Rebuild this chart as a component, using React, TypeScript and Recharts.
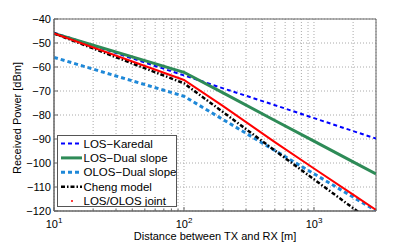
import React from 'react';
import { LineChart, Line, XAxis, YAxis, CartesianGrid, ReferenceArea, Legend, Label } from 'recharts';

// distances [m] and received power [dBm]
const distances = [10, 100, 200, 500, 1000, 2000, 3000];
const losKaredal = [-45.7, -63.5, -68.9, -75.9, -81.3, -86.7, -89.8];
const losDual = [-46.0, -62.2, -70.8, -82.3, -90.9, -99.5, -104.6];
const olosDual = [-56.0, -72.2, -81.9, -94.8, -104.5, -114.2, -119.9];
const cheng = [-46.0, -66.8, -78.8, -94.8, -106.8, -118.8, -125.9];
const joint = [-46.0, -65.4, -76.3, -91.3, -102.3, -113.2, -119.6];

const xTicks = [10, 20, 30, 40, 50, 60, 70, 80, 90, 100, 200, 300, 400, 500, 600, 700, 800, 900, 1000, 2000, 3000];
const yTicks = [-120, -110, -100, -90, -80, -70, -60, -50, -40];

const data = distances.map((d, i) => ({
  d,
  karedal: losKaredal[i],
  losDual: losDual[i],
  olosDual: olosDual[i],
  cheng: cheng[i],
  joint: joint[i],
}));

const FONT = '"Liberation Sans", Arial, sans-serif';
const AXIS = '#666';

const series = [
  { key: 'karedal', name: 'LOS\u2212Karedal', color: '#0000ff', width: 2, dash: '4 3' },
  { key: 'losDual', name: 'LOS\u2212Dual slope', color: '#2e8b57', width: 3, dash: undefined },
  { key: 'olosDual', name: 'OLOS\u2212Dual slope', color: '#1e88d8', width: 3, dash: '4 3' },
  { key: 'cheng', name: 'Cheng model', color: '#000000', width: 2.5, dash: '4 2 1.5 2' },
  { key: 'joint', name: 'LOS/OLOS joint', color: '#ff0000', width: 2, dash: undefined },
];

const isMajor = (v: number) => Math.abs(Math.log10(v) - Math.round(Math.log10(v))) < 1e-9;

const minus = (v: number) => (v < 0 ? '\u2212' + Math.abs(v) : String(v));

const XTick = ({ x, y, payload }: any) => {
  const v = payload.value;
  const major = isMajor(v);
  return (
    <g>
      <line x1={x} x2={x} y1={y} y2={y - (major ? 4 : 2)} stroke={AXIS} />
      {major && (
        <text x={x} y={y + 17} textAnchor="middle" fontSize={11} fontFamily={FONT} fill="#000">
          10<tspan fontSize={8} dy={-5}>{Math.round(Math.log10(v))}</tspan>
        </text>
      )}
    </g>
  );
};

const XTopTick = ({ x, y, payload }: any) => (
  <line x1={x} x2={x} y1={y} y2={y + (isMajor(payload.value) ? 4 : 2)} stroke={AXIS} />
);

const YTick = ({ x, y, payload }: any) => (
  <g>
    <line x1={x} x2={x + 4} y1={y} y2={y} stroke={AXIS} />
    <text x={x - 3} y={y} dy={4} textAnchor="end" fontSize={11} fontFamily={FONT} fill="#000">
      {minus(payload.value)}
    </text>
  </g>
);

const YRightTick = ({ x, y }: any) => <line x1={x} x2={x - 4} y1={y} y2={y} stroke={AXIS} />;

const LegendBox = () => (
  <div style={{ background: '#fff', border: '1px solid #555', width: 118, height: 70, boxSizing: 'content-box' }}>
    <svg width={118} height={70}>
      {series.map((s, i) => {
        const cy = 7.5 + i * 14.4;
        return (
          <g key={s.key}>
            {s.key === 'joint' ? (
              <circle cx={14} cy={cy} r={1} fill={s.color} />
            ) : (
              <line x1={3} x2={24} y1={cy} y2={cy} stroke={s.color} strokeWidth={s.width} strokeDasharray={s.dash} />
            )}
            <text x={25.5} y={cy + 4} fontSize={11.5} fontFamily={FONT} fill="#000">
              {s.name}
            </text>
          </g>
        );
      })}
    </svg>
  </div>
);

export default function App() {
  return (
    <div>
      <style>{'body{margin:0}'}</style>
      <LineChart width={415} height={242} data={data} margin={{ top: 19, right: 39, bottom: 0, left: 0 }}>
        <CartesianGrid stroke="#aaa" strokeDasharray="1 2" />
        <XAxis
          dataKey="d"
          type="number"
          scale="log"
          domain={[10, 3000]}
          ticks={xTicks}
          interval={0}
          height={31}
          tickSize={0}
          tickMargin={0}
          axisLine={{ stroke: AXIS }}
          tick={<XTick />}
          allowDataOverflow
        >
          <Label
            value="Distance between TX and RX [m]"
            position="insideBottom"
            offset={2}
            style={{ fontSize: 11, fontFamily: FONT, fill: '#000' }}
          />
        </XAxis>
        <XAxis
          xAxisId="top"
          orientation="top"
          type="number"
          scale="log"
          domain={[10, 3000]}
          ticks={xTicks}
          interval={0}
          height={0}
          tickSize={0}
          tickMargin={0}
          axisLine={false}
          tick={<XTopTick />}
        />
        <YAxis
          type="number"
          domain={[-120, -40]}
          ticks={yTicks}
          interval={0}
          width={54}
          tickSize={0}
          tickMargin={0}
          axisLine={{ stroke: AXIS }}
          tick={<YTick />}
          allowDataOverflow
        >
          <Label
            content={({ viewBox }: any) => (
              <text
                x={17}
                y={viewBox.y + viewBox.height / 2 + 3}
                transform={`rotate(-90 17 ${viewBox.y + viewBox.height / 2 + 3})`}
                textAnchor="middle"
                dominantBaseline="central"
                fontSize={11}
                fontFamily={FONT}
                fill="#000"
              >
                Received Power [dBm]
              </text>
            )}
          />
        </YAxis>
        <YAxis
          yAxisId="right"
          orientation="right"
          type="number"
          domain={[-120, -40]}
          ticks={yTicks}
          interval={0}
          width={0}
          tickSize={0}
          tickMargin={0}
          axisLine={false}
          tick={<YRightTick />}
        />
        {series.map((s) => (
          <Line
            key={s.key}
            dataKey={s.key}
            name={s.name}
            stroke={s.color}
            strokeWidth={s.width}
            strokeDasharray={s.dash}
            dot={false}
            activeDot={false}
            isAnimationActive={false}
          />
        ))}
        <ReferenceArea x1={10} x2={3000} y1={-120} y2={-40} fill="none" stroke={AXIS} strokeWidth={1} />
        <Legend
          layout="horizontal"
          verticalAlign="middle"
          align="center"
          wrapperStyle={{ left: 57, top: 135, width: 120, height: 72 }}
          content={<LegendBox />}
        />
      </LineChart>
    </div>
  );
}
